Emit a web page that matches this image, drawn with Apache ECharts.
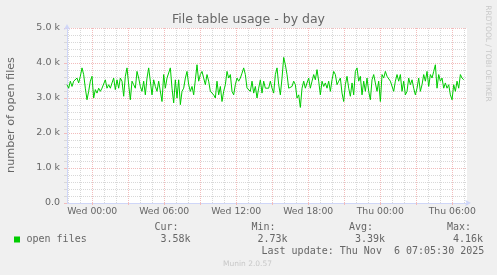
<!DOCTYPE html>
<html><head><meta charset="utf-8">
<script src="https://cdn.jsdelivr.net/npm/echarts@6/dist/echarts.min.js"></script>
<style>html,body{margin:0;padding:0;background:#F0F0F0;}#c{width:497px;height:275px;}</style>
</head><body><div id="c"></div>
<script>
const chartTitle = 'File table usage - by day';
const yAxisTitle = 'number of open files';
const seriesName = 'open files';
const xTickHours = [0, 6, 12, 18, 24, 30];
const xTickLabels = ['Wed 00:00', 'Wed 06:00', 'Wed 12:00', 'Wed 18:00', 'Thu 00:00', 'Thu 06:00'];
const yTickValues = [0, 1000, 2000, 3000, 4000, 5000];
const yTickLabels = ['0.0', '1.0 k', '2.0 k', '3.0 k', '4.0 k', '5.0 k'];
const statNames = ['Cur:', 'Min:', 'Avg:', 'Max:'];
const statValues = ['3.58k', '2.73k', '3.39k', '4.16k'];
const lastUpdate = 'Last update: Thu Nov  6 07:05:30 2025';
const sideText = 'RRDTOOL / TOBI OETIKER';
const footerText = 'Munin 2.0.57';
const sampleStartHour = -2.1;
const sampleStepHours = 25 / 180;
const openFiles = [
3380,3280,3480,3330,3480,3430,3570,3430,3620,3860,3670,3280,2950,3190,3480,3620,3000,3240,3140,3280,3190,3280,3330,3520,3280,3380,3280,3430,3570,3240,3520,3280,3570,3480,3050,3620,3860,3380,2950,3480,3380,3280,3760,3570,3330,3190,3480,3090,3570,3860,3480,3090,3520,3330,3190,3480,3520,2900,3670,3280,3570,
3620,3860,3280,2860,3520,3000,3520,2810,3190,3280,3570,3760,3380,3190,3330,3090,3520,3950,3480,3670,3760,3570,3380,3670,3480,3190,3240,3090,3000,3480,3090,3330,2900,3190,3380,3760,3570,3670,3190,3090,3380,3570,3480,3570,3710,3860,3670,3280,3280,3190,3480,3140,3330,3000,3280,3520,3140,3480,3280,3330,
3280,3480,3280,3140,3670,3860,3380,3090,3570,4160,3950,3670,3280,3280,3330,3480,3380,3000,3090,2730,3280,3480,3280,3430,3570,3280,3480,3670,3520,3810,3480,3090,3480,3330,3430,3280,3480,3190,3520,3760,3670,3380,3480,3570,3140,2900,3380,3620,3280,3050,3430,3090,3760,3860,3480,3620,3090,3480,3190,3570,
3190,2950,3520,3670,3430,3190,3480,2900,3670,3570,3760,3620,3670,3480,3480,3190,3480,3670,3480,3670,3190,3480,3090,3190,3570,3380,3520,3280,3090,3280,3570,3190,3380,3670,3480,3760,3330,3670,3570,3760,3950,3280,3670,3480,3570,3280,3430,3280,3380,3090,2950,3380,3190,3480,3280,3670,3570,3520
];

const X_MIN = -2.1, X_MAX = 31.23;
const majorHours = [], minorHours = [];
for (let h = Math.ceil(X_MIN); h <= Math.floor(X_MAX); h++) {
  if (h % 3 === 0) majorHours.push(h); else minorHours.push(h);
}
const RED = '#F2BCBC', GREY = '#D8D8D8', AXIS = '#CFD6F8', FONT = '#666666', GREEN = '#00CC00';
const sans = 'DejaVu Sans', mono = 'DejaVu Sans Mono';

const chart = echarts.init(document.getElementById('c'), null, {renderer: 'canvas'});
const monoText = (t, x, y) => ({type: 'text', x: x, y: y, silent: true,
  style: {text: t, fill: FONT, font: '10px "' + mono + '"', textAlign: 'left', textVerticalAlign: 'middle'}});
const graphics = [
  {type: 'text', x: 248.5, y: 19.5, style: {text: chartTitle, fill: FONT, font: '12.5px "' + sans + '"', textAlign: 'center', textVerticalAlign: 'middle'}},
  {type: 'text', x: 11.5, y: 115, rotation: Math.PI / 2, style: {text: yAxisTitle, fill: FONT, font: '11.2px "' + sans + '"', textAlign: 'center', textVerticalAlign: 'middle'}},
  {type: 'text', x: 488, y: 53.5, rotation: -Math.PI / 2, style: {text: sideText, fill: '#C8C8C8', font: '7.5px "' + sans + '"', textAlign: 'center', textVerticalAlign: 'middle'}},
  {type: 'text', x: 247.5, y: 264, style: {text: footerText, fill: '#C8C8C8', font: '7.5px "' + sans + '"', textAlign: 'center', textVerticalAlign: 'middle'}},
  {type: 'rect', shape: {x: 14, y: 236.5, width: 6, height: 6}, style: {fill: GREEN}},
  monoText(seriesName, 26.5, 239.5),
  monoText(lastUpdate, 261.5, 251.5)
];
const statX = [154.5, 251.5, 349, 447];
statNames.forEach((n, i) => {
  graphics.push(monoText(n, statX[i], 227.5));
  graphics.push(monoText(statValues[i], statX[i] + 6, 239.5));
});

chart.setOption({
  animation: false,
  backgroundColor: '#F0F0F0',
  grid: {left: 67, right: 30, top: 28, bottom: 72, show: true, backgroundColor: '#FFFFFF', borderWidth: 0},
  xAxis: [{
    type: 'value', min: X_MIN, max: X_MAX,
    axisLine: {show: true, onZero: false, lineStyle: {color: AXIS, width: 1}, symbol: ['none', 'arrow'], symbolSize: [5, 6], symbolOffset: [0, 4]},
    axisTick: {show: true, length: 2, customValues: majorHours, lineStyle: {color: RED}},
    axisLabel: {customValues: xTickHours, hideOverlap: false, margin: 4, color: FONT, fontFamily: sans, fontSize: 9.3,
      formatter: v => xTickLabels[xTickHours.indexOf(Math.round(v))] || ''},
    splitLine: {show: true, lineStyle: {color: RED, type: [1, 1], width: 1}}
  }, {
    type: 'value', min: X_MIN, max: X_MAX, position: 'bottom', offset: 0,
    axisLine: {show: false, onZero: false}, axisLabel: {show: false},
    axisTick: {show: false, customValues: minorHours},
    splitLine: {show: true, lineStyle: {color: GREY, type: [1, 1], width: 1}}
  }],
  yAxis: {
    type: 'value', min: 0, max: 5000, interval: 1000,
    axisLine: {show: true, onZero: false, lineStyle: {color: AXIS, width: 1}, symbol: ['none', 'arrow'], symbolSize: [5, 6], symbolOffset: [0, 4]},
    axisTick: {show: true, length: 3, lineStyle: {color: RED}},
    minorTick: {show: true, splitNumber: 5, length: 3, lineStyle: {color: GREY}},
    axisLabel: {margin: 7, color: FONT, fontFamily: sans, fontSize: 9.5,
      formatter: v => yTickLabels[yTickValues.indexOf(v)]},
    splitLine: {show: true, lineStyle: {color: RED, type: [1, 1], width: 1}},
    minorSplitLine: {show: true, lineStyle: {color: GREY, type: [1, 1], width: 1}}
  },
  series: [{
    name: seriesName, type: 'line', xAxisIndex: 0, showSymbol: false, symbol: 'none',
    lineStyle: {color: GREEN, width: 1}, itemStyle: {color: GREEN},
    data: openFiles.map((v, i) => [sampleStartHour + i * sampleStepHours, v]),
    z: 5
  }],
  graphic: graphics
});
</script></body></html>
